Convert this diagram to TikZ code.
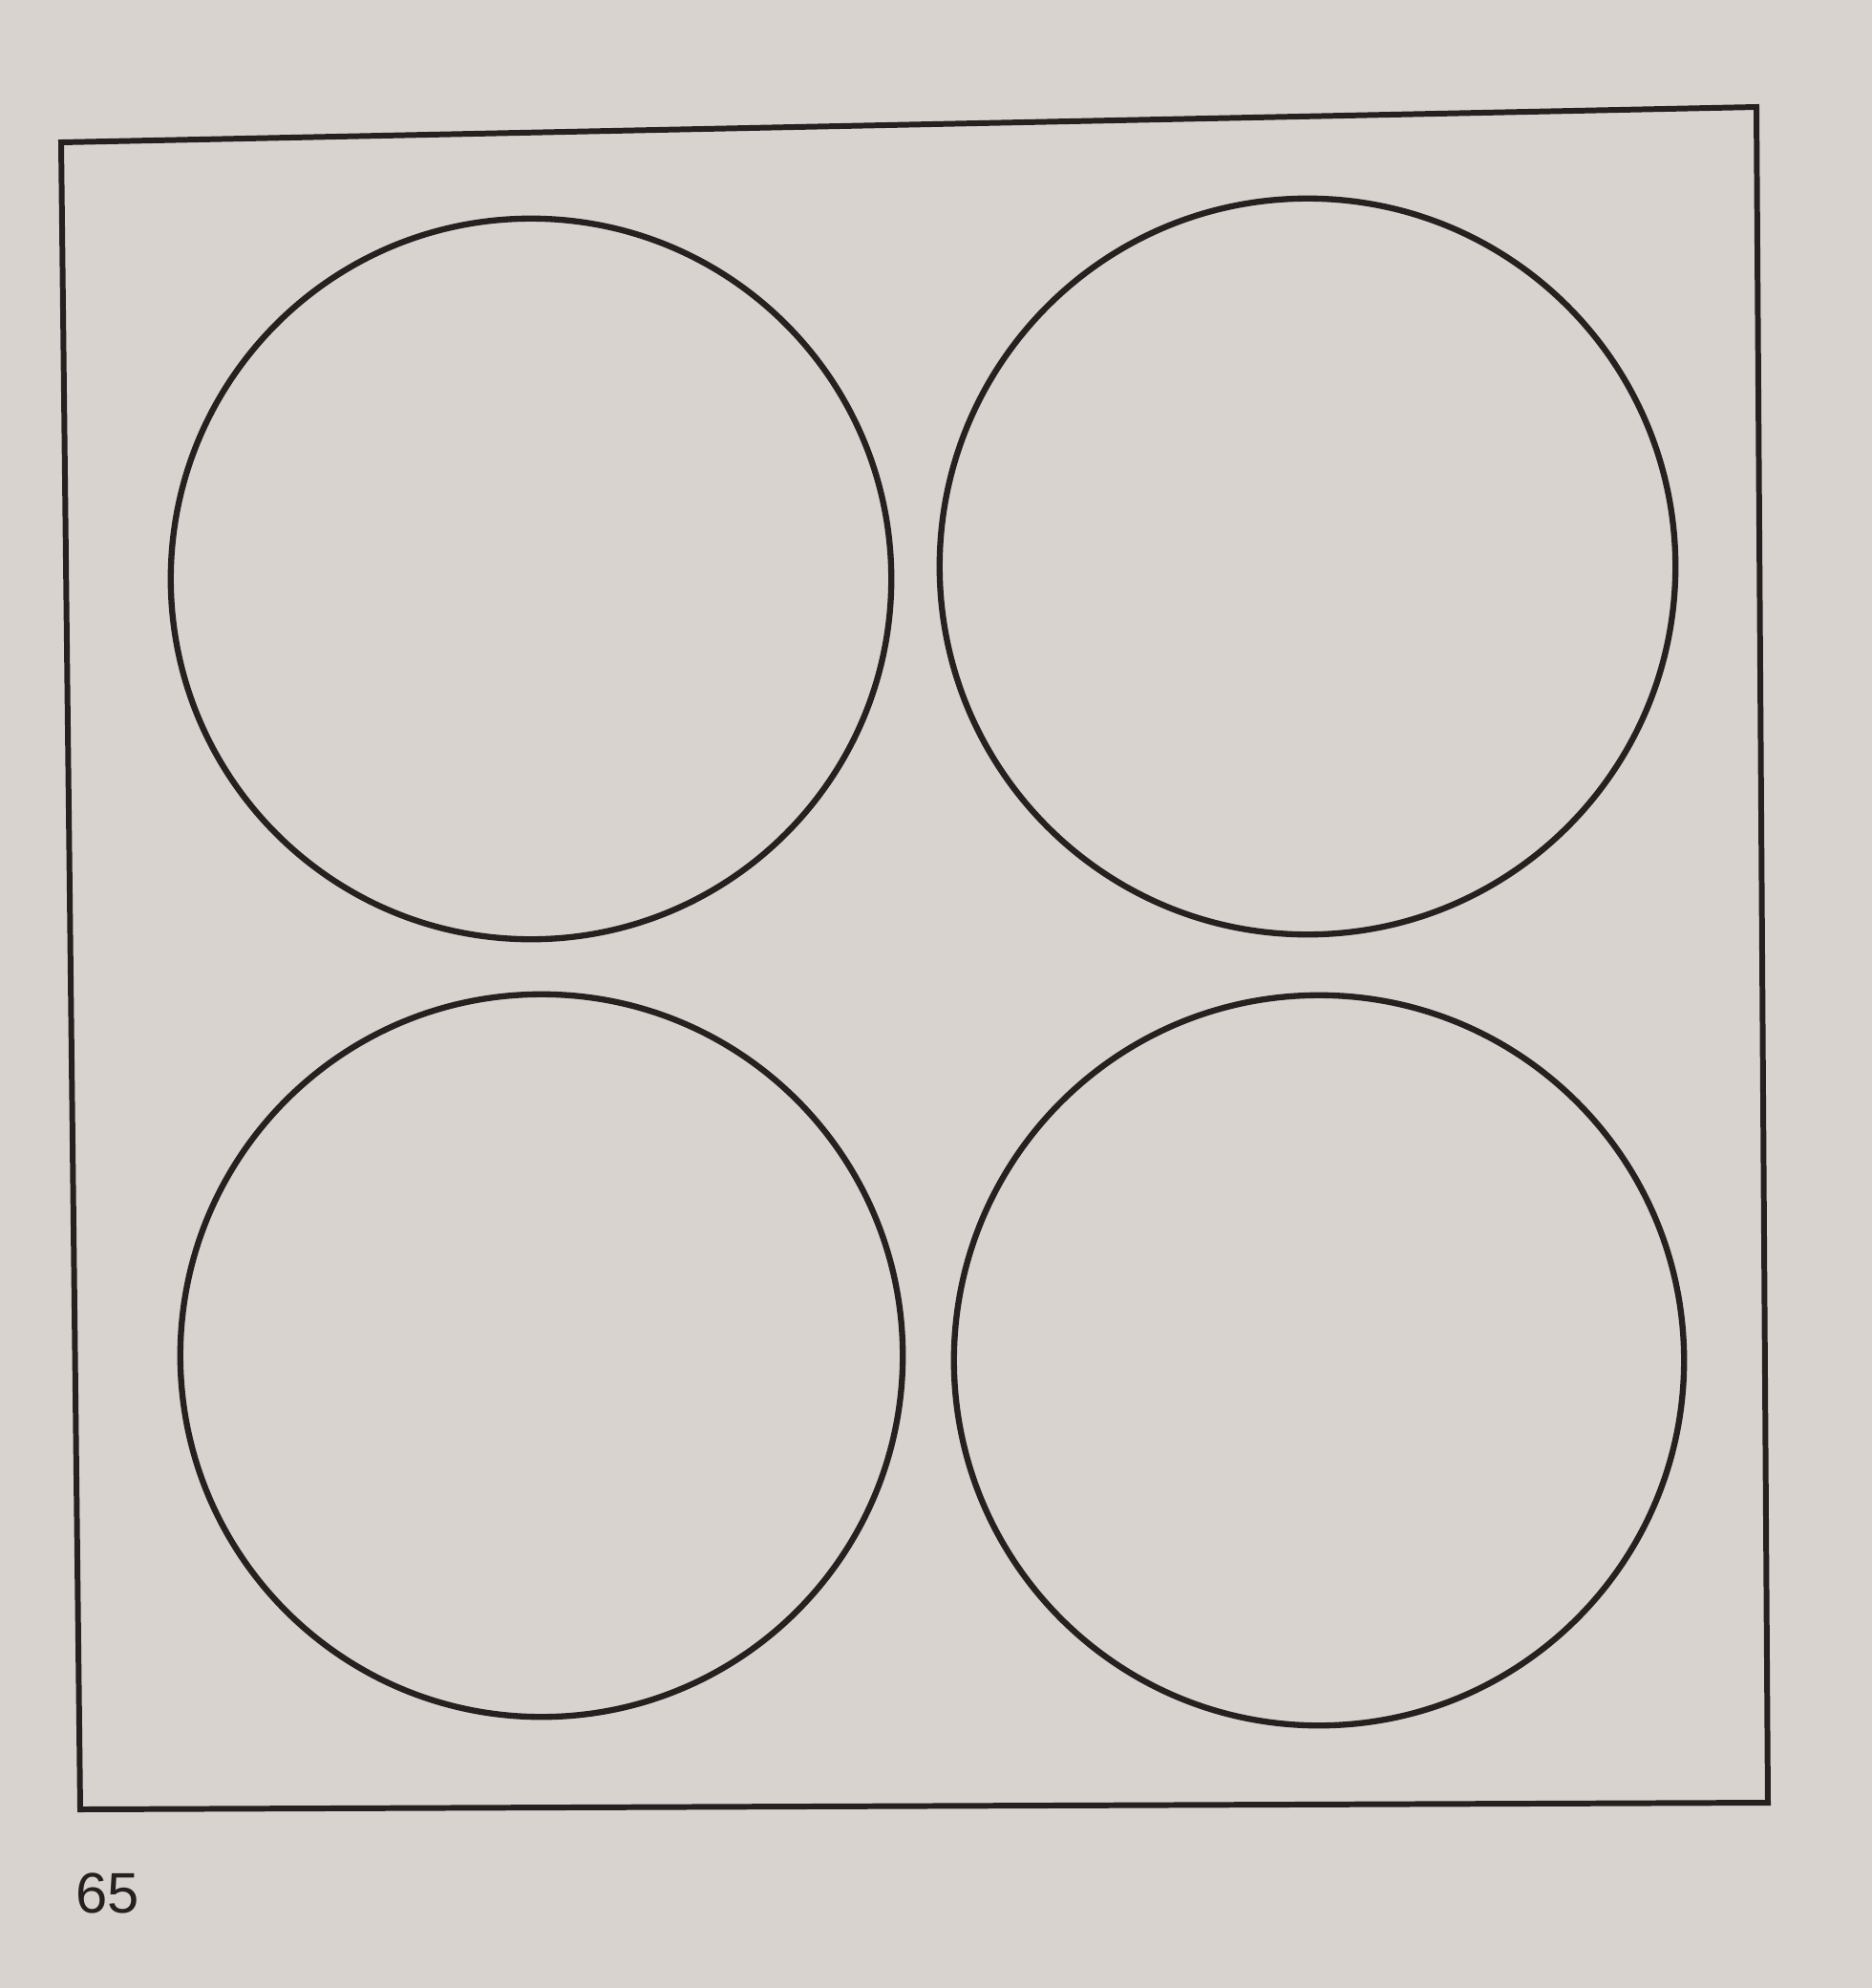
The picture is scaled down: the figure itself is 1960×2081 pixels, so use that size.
\documentclass[tikz,border=0pt]{standalone}
\usepackage{fontspec}
\setmainfont{Liberation Sans}
\usepackage{xcolor}
\definecolor{pgPaper}{RGB}{216, 211, 206}
\definecolor{pgInk}{RGB}{38, 33, 32}
\begin{document}
\begin{tikzpicture}[x=0.01cm, y=-0.01cm,
      every node/.style={text=pgInk},
      ring/.style={draw=pgInk, circle, line width=1.8pt, inner sep=0pt}]
    \fill[pgPaper] (0,0) rectangle (1960,2081);
    \useasboundingbox (0,0) rectangle (1960,2081);
    \coordinate (ftl) at (64,149);
    \coordinate (ftr) at (1839,112);
    \coordinate (fbr) at (1851,1887);
    \coordinate (fbl) at (84,1894);
    \draw[pgInk, line width=1.7pt, line join=miter] (ftl) -- (ftr) -- (fbr) -- (fbl) -- cycle;
    \node[ring, minimum size=7.54cm] (c1) at ( 556, 606) {};
    \node[ring, minimum size=7.70cm] (c2) at (1369, 593) {};
    \node[ring, minimum size=7.56cm] (c3) at ( 567,1419) {};
    \node[ring, minimum size=7.64cm] (c4) at (1381,1424) {};
    \node[font=\fontsize{17}{20}\selectfont, inner sep=0pt] (pg) at (113,1982) {65};
  \end{tikzpicture}
\end{document}
